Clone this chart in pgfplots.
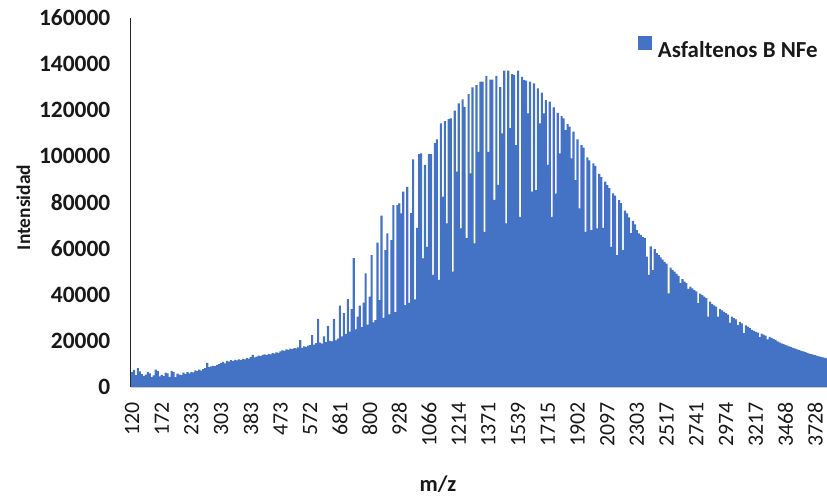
\documentclass[border=0pt]{standalone}
\usepackage{pgfplots}
\pgfplotsset{compat=1.18}
\usepackage{pgfplotstable}
\usepackage{fontspec}
\setmainfont{Carlito}
\definecolor{barblue}{HTML}{4472C4}
\definecolor{axgray}{HTML}{D9D9D9}

\pgfplotstableread[row sep=\\]{
y\\
6500\\ 7400\\ 5200\\ 8200\\ 6800\\ 5600\\ 4800\\ 5400\\ 6600\\ 5900\\ 4300\\ 5000\\ 7500\\ 6900\\ 4600\\
5300\\ 4700\\ 6200\\ 5900\\ 4400\\ 7000\\ 6600\\ 4300\\ 5800\\ 5400\\ 5100\\ 6200\\ 5600\\ 6400\\ 5900\\
6600\\ 6300\\ 7200\\ 6900\\ 7500\\ 7100\\ 7800\\ 8200\\ 10500\\ 8600\\ 8900\\ 9200\\ 9000\\ 9600\\ 9900\\
10500\\ 10900\\ 10200\\ 11300\\ 11000\\ 11600\\ 11200\\ 11800\\ 11500\\ 12000\\ 11700\\ 12200\\ 12000\\ 12500\\ 12300\\
13000\\ 13900\\ 12800\\ 13200\\ 13600\\ 13400\\ 13900\\ 14100\\ 13800\\ 14400\\ 14200\\ 14700\\ 14500\\ 15000\\ 14800\\
15500\\ 15900\\ 15700\\ 16300\\ 16100\\ 16600\\ 16400\\ 16900\\ 16700\\ 17200\\ 20300\\ 17000\\ 17600\\ 17400\\ 17900\\
18200\\ 22500\\ 18400\\ 19000\\ 29500\\ 19200\\ 18800\\ 22000\\ 19500\\ 26500\\ 20000\\ 19800\\ 29500\\ 20200\\ 21000\\
35300\\ 22000\\ 32000\\ 23000\\ 38100\\ 24000\\ 33800\\ 55900\\ 25000\\ 30500\\ 35300\\ 26000\\ 36600\\ 49300\\ 27000\\
39200\\ 57200\\ 28000\\ 29000\\ 62600\\ 37700\\ 74300\\ 30000\\ 59400\\ 66600\\ 31500\\ 63700\\ 78900\\ 32500\\ 78900\\
79600\\ 75300\\ 84700\\ 35500\\ 86800\\ 36500\\ 75400\\ 98700\\ 38000\\ 69000\\ 101000\\ 101300\\ 55800\\ 96300\\ 60800\\
101000\\ 101000\\ 48600\\ 105700\\ 107400\\ 46400\\ 114300\\ 82500\\ 115300\\ 71000\\ 116100\\ 116500\\ 50000\\ 119800\\ 93400\\
123000\\ 68800\\ 124700\\ 121500\\ 64500\\ 127000\\ 92600\\ 129900\\ 62300\\ 130900\\ 102000\\ 132400\\ 132400\\ 67300\\ 134900\\
102000\\ 133300\\ 133300\\ 81100\\ 134900\\ 87600\\ 130000\\ 110000\\ 137200\\ 71000\\ 137200\\ 112200\\ 135700\\ 135300\\ 104900\\
137200\\ 73800\\ 134500\\ 133100\\ 132800\\ 118600\\ 132400\\ 84700\\ 131700\\ 85400\\ 129500\\ 114300\\ 127600\\ 118600\\ 124400\\
96300\\ 123700\\ 73800\\ 121200\\ 83900\\ 118900\\ 101300\\ 117500\\ 116500\\ 111400\\ 114000\\ 112900\\ 99100\\ 110700\\ 89700\\
107400\\ 77400\\ 104900\\ 103800\\ 67300\\ 99600\\ 98300\\ 68000\\ 97000\\ 95900\\ 68800\\ 92400\\ 91000\\ 69000\\ 89000\\
87500\\ 86200\\ 60800\\ 84000\\ 83000\\ 57200\\ 81000\\ 79700\\ 59400\\ 76500\\ 75300\\ 73500\\ 66700\\ 72000\\ 70500\\
68000\\ 66600\\ 66000\\ 65000\\ 64500\\ 56500\\ 48600\\ 61000\\ 50700\\ 59800\\ 58000\\ 57200\\ 56200\\ 55200\\ 54300\\
53500\\ 40600\\ 51800\\ 50800\\ 50000\\ 49100\\ 48200\\ 45000\\ 46800\\ 45700\\ 45000\\ 42500\\ 43500\\ 42800\\ 42000\\
41500\\ 36400\\ 40500\\ 39800\\ 39200\\ 38500\\ 30500\\ 37000\\ 36000\\ 35400\\ 34800\\ 30500\\ 33800\\ 33200\\ 32600\\
32000\\ 31400\\ 27800\\ 30500\\ 29900\\ 29300\\ 26800\\ 28200\\ 27600\\ 23400\\ 26700\\ 26200\\ 25600\\ 24800\\ 24300\\
23900\\ 23600\\ 21600\\ 23100\\ 22700\\ 22300\\ 20600\\ 21700\\ 21300\\ 20900\\ 20400\\ 19800\\ 19400\\ 18900\\ 18600\\
18200\\ 17900\\ 17600\\ 17300\\ 16900\\ 16600\\ 16300\\ 16000\\ 15700\\ 15400\\ 15100\\ 14800\\ 14500\\ 14300\\ 14000\\
13800\\ 13500\\ 13300\\ 13100\\ 12800\\ 12600\\ 12400\\
}\spectrum

\begin{document}
\begin{tikzpicture}
\begin{axis}[
  at={(0,0)}, anchor=south west,
  scale only axis, width=696bp, height=369bp,
  xmin=-0.5, xmax=351, ymin=0, ymax=160000,
  axis x line*=bottom, axis y line*=left,
  x axis line style={draw=axgray, line width=1bp},
  y axis line style={draw=black!85, line width=1bp},
  xtick={0,15,...,345},
  xticklabels={120,172,233,303,383,473,572,681,800,928,1066,1214,1371,1539,1715,1902,2097,2303,2517,2741,2974,3217,3468,3728},
  ytick={0,20000,40000,60000,80000,100000,120000,140000,160000},
  yticklabels={0,20000,40000,60000,80000,100000,120000,140000,160000},
  scaled y ticks=false,
  major tick length=0pt,
  xticklabel style={rotate=90, anchor=east, inner sep=0pt, font=\fontsize{22}{26}\selectfont, text=black!90},
  xticklabel shift=15bp,
  yticklabel style={anchor=east, inner sep=0pt, font=\bfseries\fontsize{23.5}{27}\selectfont, text=black!90},
  yticklabel shift=20.5bp,
  xlabel={m/z},
  xlabel style={at={(axis description cs:0.4411,-0.2642)}, anchor=center, font=\bfseries\fontsize{22.5}{26}\selectfont, text=black!90},
  ylabel={Intensidad},
  ylabel style={at={(axis description cs:-0.1545,0.4864)}, anchor=center, font=\bfseries\fontsize{19.5}{23}\selectfont, text=black!90},
  legend style={at={(axis description cs:0.7284,0.8881)}, anchor=south west, draw=none, fill=none,
    inner sep=0pt, outer sep=0pt, column sep=6bp, nodes={inner sep=0pt},
    font=\bfseries\fontsize{23}{27}\selectfont, text=black!90},
  legend cell align=left,
]
\addplot[ybar, bar width=1.08, bar shift=0pt, fill=barblue, draw=none,
  legend image code/.code={\fill[barblue] (0bp,0bp) rectangle (14bp,14bp);}]
  table[x expr=\coordindex, y=y] {\spectrum};
\addlegendentry{Asfaltenos B NFe}
\end{axis}
\pgfresetboundingbox
\path (-131bp,-110bp) rectangle (696bp,387bp);
\end{tikzpicture}
\end{document}
